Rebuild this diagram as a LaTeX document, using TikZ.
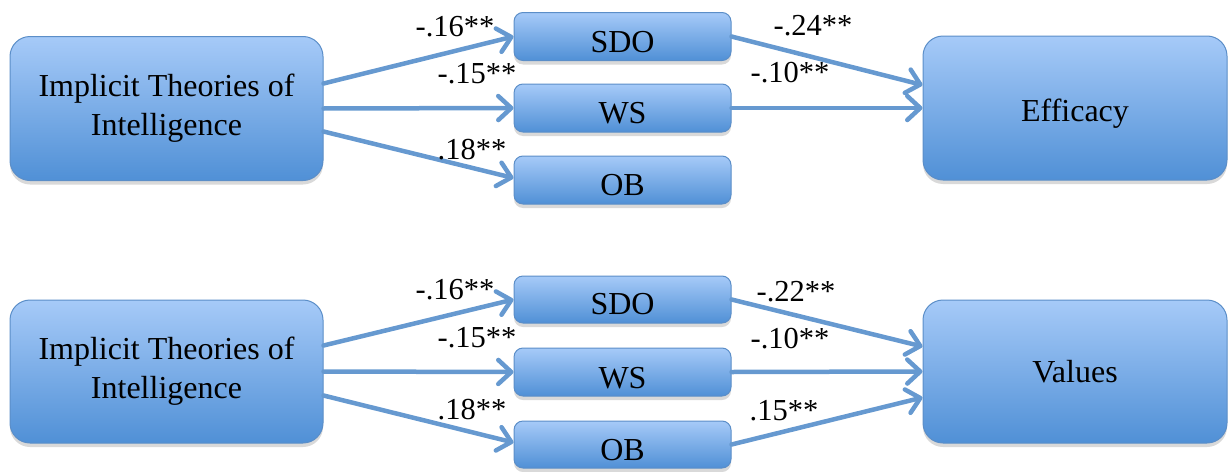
\documentclass[tikz,border=0pt]{standalone}
\usepackage{fontspec}
\setmainfont{Liberation Serif}
\usetikzlibrary{arrows.meta,shadows}
\definecolor{boxtop}{HTML}{A6CAF8}
\definecolor{boxbot}{HTML}{5090D6}
\definecolor{boxline}{HTML}{5B8EC8}
\definecolor{arrowblue}{HTML}{6699D0}
% lower a box label without changing the box it sits in
\newcommand\dropped[2]{\raisebox{-#1}[\height][\depth]{#2}}
\tikzset{
  varbox/.style={rounded corners=20pt, draw=boxline, line width=1pt,
    top color=boxtop, bottom color=boxbot, text=black,
    font=\fontsize{32}{39}\selectfont, align=center, inner sep=0pt,
    drop shadow={shadow xshift=0pt, shadow yshift=-4pt, opacity=0.25, fill=black!60}},
  bigbox/.style={varbox, minimum width=313pt, minimum height=144pt},
  smallbox/.style={varbox, rounded corners=9pt, minimum width=217pt, minimum height=48pt},
  path/.style={draw=arrowblue, line width=4.5pt, line cap=round,
    -{Straight Barb[length=13pt, width=24pt, line cap=round, line join=round]}},
  coef/.style={font=\fontsize{30.5}{34}\selectfont, inner sep=0pt, text=black}
}
\begin{document}
\begin{tikzpicture}[x=1pt, y=-1pt]
\useasboundingbox (0,0) rectangle (1230,471);

% upper model: outcome Efficacy
\node[bigbox] (iti1) at (166.5,108.5) {Implicit Theories of\\Intelligence};
\node[smallbox] (sdo1) at (622.5,36.5) {\dropped{6pt}{SDO}};
\node[smallbox] (ws1) at (622.5,108) {\dropped{5pt}{WS}};
\node[smallbox] (ob1) at (622.5,180) {\dropped{5pt}{OB}};
\node[bigbox, minimum width=304pt] (eff) at (1075,108) {\dropped{6pt}{Efficacy}};

\draw[path] ([yshift=25pt]iti1.east) -- (sdo1.west);
\draw[path] (iti1.east) -- (ws1.west);
\draw[path] ([yshift=-23pt]iti1.east) -- ([yshift=2pt]ob1.west);
\draw[path] (sdo1.east) -- ([yshift=23pt]eff.west);
\draw[path] (ws1.east) -- (eff.west);

\node[coef] (c1) at (455,27) {-.16**};
\node[coef] (c2) at (477,74) {-.15**};
\node[coef] (c3) at (472,150) {.18**};
\node[coef] (c4) at (813,26) {-.24**};
\node[coef] (c5) at (790,73) {-.10**};

% lower model: outcome Values
\node[bigbox, minimum height=143pt] (iti2) at (166.5,371.5) {Implicit Theories of\\Intelligence};
\node[smallbox, minimum height=47pt] (sdo2) at (622.5,299.5) {\dropped{5pt}{SDO}};
\node[smallbox] (ws2) at (622.5,372) {\dropped{6pt}{WS}};
\node[smallbox, minimum height=47pt] (ob2) at (622.5,444.5) {\dropped{5.5pt}{OB}};
\node[bigbox, minimum width=304pt, minimum height=143pt] (val) at (1075,371.5) {Values};

\draw[path] ([yshift=26pt]iti2.east) -- (sdo2.west);
\draw[path] (iti2.east) -- (ws2.west);
\draw[path] ([yshift=-24pt]iti2.east) -- ([yshift=2pt]ob2.west);
\draw[path] (sdo2.east) -- ([yshift=25pt]val.west);
\draw[path] (ws2.east) -- (val.west);
\draw[path] (ob2.east) -- ([yshift=-26pt]val.west);

\node[coef] (d1) at (455,290) {-.16**};
\node[coef] (d2) at (477,338) {-.15**};
\node[coef] (d3) at (472,410) {.18**};
\node[coef] (d4) at (796,292) {-.22**};
\node[coef] (d5) at (790,339) {-.10**};
\node[coef] (d6) at (784,411) {.15**};
\end{tikzpicture}
\end{document}
